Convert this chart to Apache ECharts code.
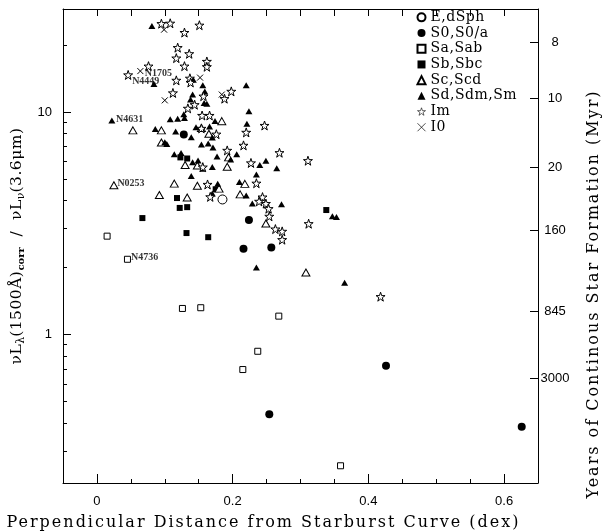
<!DOCTYPE html>
<html><head><meta charset="utf-8">
<script src="https://cdn.jsdelivr.net/npm/echarts@6/dist/echarts.min.js"></script>
<style>html,body{margin:0;padding:0;background:#fff}#c{width:605px;height:531px}</style>
</head><body><div id="c"></div>
<script>
// ---- letter spacing for the wide serif titles (canvas text) ----
(function(){
  const proto = CanvasRenderingContext2D.prototype;
  const desc = Object.getOwnPropertyDescriptor(proto,'font');
  if(!desc || !('letterSpacing' in proto)) return;
  Object.defineProperty(proto,'font',{
    configurable:true,
    get(){return desc.get.call(this);},
    set(v){
      desc.set.call(this,v);
      let ls='0px';
      if(/DejaVu Serif/.test(v)){
        if(/ 16px /.test(v)) ls='2px';
        else if(/ 15.5px /.test(v)) ls='0.5px';
        else if(/ 14px /.test(v)) ls='0.5px';
      }
      this.letterSpacing=ls;
    }
  });
})();

// ---- data ----
const xMin = -0.05, xMax = 0.65;
const yMin = 0.215, yMax = 29.1;
const xTickLabels = [0, 0.2, 0.4, 0.6];
const leftMajorTicks = [1, 10];
const leftMinorTicks = [0.3,0.4,0.5,0.6,0.7,0.8,0.9,2,3,4,5,6,7,8,9,20];
const rightTickValues = [20.6, 11.5, 5.64, 2.94, 1.27, 0.637];
const rightTickLabels = ['8','10','20','160','845','3000'];

const xTitle = 'Perpendicular Distance from Starburst Curve (dex)';
const rightTitle = 'Years of Continous Star Formation (Myr)';

const legendNames = ['E,dSph','S0,S0/a','Sa,Sab','Sb,Sbc','Sc,Scd','Sd,Sdm,Sm','Im','I0'];

const eDSph = [[0.185,4.05]];
const s0 = [[0.128,7.94],[0.224,3.27],[0.216,2.43],[0.257,2.46],[0.426,0.723],[0.254,0.438],[0.626,0.385]];
const saSab = [[0.015,2.77],[0.045,2.18],[0.126,1.31],[0.153,1.32],[0.268,1.21],[0.237,0.841],[0.215,0.696],[0.359,0.257]];
const sbSbc = [[0.067,3.34],[0.118,4.11],[0.122,3.71],[0.133,3.74],[0.132,2.86],[0.164,2.74],[0.338,3.63],[0.123,6.26],[0.133,6.19],[0.175,4.50]];
const scScd = [[0.025,4.69],[0.053,8.28],[0.095,8.28],[0.095,7.31],[0.184,9.11],[0.154,8.48],[0.165,8.0],[0.130,5.79],[0.148,5.76],[0.194,6.26],[0.192,5.68],[0.218,4.76],[0.211,4.27],[0.180,4.53],[0.114,4.77],[0.148,4.67],[0.092,4.24],[0.133,4.13],[0.249,3.16],[0.308,1.90]];
const sdSm = [[0.081,24.4],[0.084,13.4],[0.022,9.18],[0.220,13.2],[0.224,10.1],[0.221,8.87],[0.156,13.2],[0.159,12.4],[0.141,12.0],[0.138,11.4],[0.158,11.0],[0.162,10.9],[0.128,9.79],[0.129,9.42],[0.108,9.30],[0.119,9.34],[0.146,8.56],[0.166,8.62],[0.086,8.41],[0.116,8.19],[0.139,7.72],[0.154,7.16],[0.170,7.70],[0.171,6.94],[0.100,7.33],[0.103,7.20],[0.114,6.46],[0.124,6.56],[0.141,5.96],[0.149,6.07],[0.156,5.56],[0.170,5.67],[0.177,6.32],[0.206,6.46],[0.197,6.13],[0.240,5.78],[0.249,6.04],[0.265,5.59],[0.235,5.25],[0.139,5.17],[0.174,9.13],[0.164,7.23],[0.210,4.85],[0.178,4.77],[0.220,4.22],[0.229,3.88],[0.272,3.85],[0.347,3.40],[0.353,3.38],[0.235,2.00],[0.365,1.71],[0.170,4.31],[0.142,14.0]];
const im = [[0.095,25.0],[0.108,25.1],[0.129,22.8],[0.151,24.6],[0.119,19.5],[0.136,18.3],[0.117,17.5],[0.129,16.1],[0.162,16.9],[0.162,16.0],[0.076,16.1],[0.046,14.7],[0.117,13.9],[0.137,14.2],[0.138,13.6],[0.112,12.2],[0.157,11.8],[0.188,11.5],[0.198,12.4],[0.134,10.4],[0.144,10.8],[0.155,9.66],[0.166,9.66],[0.176,7.96],[0.247,8.71],[0.220,8.11],[0.216,7.09],[0.192,6.73],[0.227,5.91],[0.156,5.66],[0.269,6.57],[0.311,6.05],[0.235,4.79],[0.163,4.73],[0.167,4.16],[0.244,4.15],[0.239,3.97],[0.249,3.88],[0.253,3.68],[0.254,3.40],[0.263,2.98],[0.273,2.91],[0.273,2.67],[0.312,3.15],[0.418,1.48],[0.154,8.45]];
const i0 = [[0.099,23.5],[0.064,15.3],[0.152,14.3],[0.100,11.3],[0.184,12.0]];

const labelNames = ['N1705','N4449','N4631','N0253','N4736'];
const labelPoints = [[0.064,15.3],[0.046,14.7],[0.022,9.18],[0.025,4.69],[0.045,2.18]];

// ---- styles ----
const labelOffsets = [[1,2.5],[0.5,6.3],[0.7,-1],[0,-1.7],[0,-2.3]];
const serif = 'DejaVu Serif';
const sans = 'Liberation Sans';
const starPath = 'path://M50,2L61.8,36.2L97.6,36.2L68.6,57.4L79.4,91.6L50,70.4L20.6,91.6L31.4,57.4L2.4,36.2L38.2,36.2Z';
const crossPath = 'path://M0,0L10,10M10,0L0,10';
const black = '#000';
const lineStyle = {color:black, width:1};

function scat(name, data, symbol, size, fill, bw){
  return {type:'scatter', name, data, symbol, symbolSize:size,
    itemStyle:{color:fill, borderColor:black, borderWidth:bw, opacity:1},
    emphasis:{disabled:true}, silent:true};
}

const chart = echarts.init(document.getElementById('c'), null, {renderer:'canvas'});
chart.setOption({
  animation:false,
  backgroundColor:'#fff',
  grid:{left:63, top:9, width:475, height:474, containLabel:false, outerBoundsMode:'none'},
  legend:{
    left:415, top:9.5, orient:'vertical', itemWidth:8, itemHeight:8, itemGap:0, padding:0,
    selectedMode:false,
    data:legendNames.map(n=>n==='Im'?{name:n, itemStyle:{borderWidth:0.6}}:(n==='I0'?{name:n, itemStyle:{borderWidth:0.7}}:n)),
    textStyle:{fontFamily:serif, fontSize:14, lineHeight:15.7, color:black}
  },
  xAxis:[
    {type:'value', position:'bottom', min:xMin, max:xMax, interval:0.05,
     axisLine:{show:true, onZero:false, lineStyle},
     axisTick:{show:true, inside:true, length:4, lineStyle},
     axisLabel:{show:false}, splitLine:{show:false}},
    {type:'value', position:'bottom', min:xMin, max:xMax,
     axisLine:{show:false, onZero:false},
     axisTick:{show:true, inside:true, length:9, customValues:xTickLabels, lineStyle},
     axisLabel:{show:true, customValues:xTickLabels, margin:12, fontFamily:sans, fontSize:13, color:black,
                formatter:v=>String(Math.round(v*10)/10)},
     splitLine:{show:false},
     name:xTitle, nameLocation:'middle', nameGap:22,
     nameTextStyle:{fontFamily:serif, fontSize:16, color:black, lineHeight:19, padding:[0,74,0,0]}},
    {type:'value', position:'top', min:xMin, max:xMax, interval:0.05,
     axisLine:{show:true, onZero:false, lineStyle},
     axisTick:{show:true, inside:true, length:7, lineStyle},
     axisLabel:{show:false}, splitLine:{show:false}}
  ],
  yAxis:[
    {type:'log', logBase:10, position:'left', min:yMin, max:yMax,
     axisLine:{show:true, onZero:false, lineStyle},
     axisTick:{show:true, inside:true, length:8, customValues:leftMajorTicks, lineStyle},
     axisLabel:{show:true, customValues:leftMajorTicks, margin:11, fontFamily:sans, fontSize:13, color:black,
                formatter:v=>String(Math.round(v))},
     splitLine:{show:false},
     name:'{a|νL}{s|λ}{a|(1500Å)}{b|corr}{a|  /  νL}{s|ν}{a|(3.6μm)}',
     nameLocation:'middle', nameRotate:90, nameGap:25,
     nameTextStyle:{color:black, padding:0,
       rich:{a:{fontFamily:serif, fontSize:15.5, lineHeight:20, color:black},
             s:{fontFamily:serif, fontSize:11, lineHeight:12, verticalAlign:'bottom', color:black},
             b:{fontFamily:serif, fontSize:10, fontWeight:'bold', lineHeight:12, verticalAlign:'bottom', color:black}}}},
    {type:'log', logBase:10, position:'left', min:yMin, max:yMax,
     axisLine:{show:false, onZero:false},
     axisTick:{show:true, inside:true, length:4, customValues:leftMinorTicks, lineStyle},
     axisLabel:{show:false}, splitLine:{show:false}},
    {type:'log', logBase:10, position:'right', min:yMin, max:yMax,
     axisLine:{show:true, onZero:false, lineStyle},
     axisTick:{show:true, inside:true, length:8, customValues:rightTickValues, lineStyle},
     axisLabel:{show:true, customValues:rightTickValues, margin:17, align:'center', fontFamily:sans, fontSize:13, color:black,
       formatter:v=>{let bi=0,bd=Infinity;rightTickValues.forEach((t,i)=>{const d=Math.abs(Math.log(t)-Math.log(v));if(d<bd){bd=d;bi=i;}});return rightTickLabels[bi];}},
     splitLine:{show:false},
     name:rightTitle, nameLocation:'middle', nameRotate:90, nameGap:46,
     nameTextStyle:{fontFamily:serif, fontSize:16, lineHeight:19, color:black, padding:[0,96,0,0]}}
  ],
  series:[
    scat('E,dSph', eDSph, 'circle', 9, '#fff', 1),
    scat('S0,S0/a', s0, 'circle', 8, black, 0),
    scat('Sa,Sab', saSab, 'rect', 6, '#fff', 1),
    scat('Sb,Sbc', sbSbc, 'rect', 6, black, 0),
    scat('Sc,Scd', scScd, 'triangle', [8,7], '#fff', 1),
    scat('Sd,Sdm,Sm', sdSm, 'triangle', [7,6], black, 0),
    scat('Im', im, starPath, 9, '#fff', 1),
    scat('I0', i0, crossPath, 6, 'none', 1),
    {type:'scatter', name:'labels', silent:true, z:5, symbolSize:1,
     itemStyle:{color:'rgba(0,0,0,0)'},
     data:labelPoints.map((p,i)=>({value:p, name:labelNames[i], label:{offset:labelOffsets[i]}})),
     label:{show:true, position:'right', distance:3, formatter:'{b}', fontFamily:'Liberation Serif', fontWeight:'bold', fontSize:10, color:black}}
  ]
});
</script></body></html>
